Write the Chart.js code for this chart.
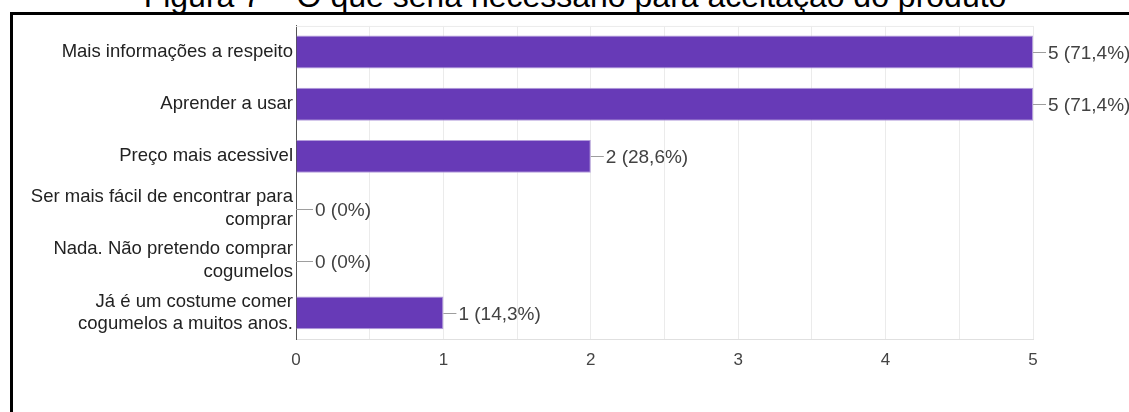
<!DOCTYPE html>
<html>
<head>
<meta charset="utf-8">
<script src="https://cdn.jsdelivr.net/npm/chart.js@4/dist/chart.umd.min.js"></script>
<style>
  html, body { margin: 0; padding: 0; background: #fff; overflow: hidden; }
  #wrap { position: relative; width: 1129px; height: 412px; }
  #titulo {
    position: absolute; left: 0; width: 1150px; top: -20px;
    text-align: center; font-family: Arial, "Liberation Sans", sans-serif;
    font-size: 32px; line-height: 32px; color: #000; white-space: nowrap;
  }
  #moldura {
    position: absolute; left: 10px; top: 12px; right: 0; bottom: 0;
    border-top: 3px solid #000; border-left: 3px solid #000;
  }
  #myCanvas { position: absolute; left: 0; top: 0; }
</style>
</head>
<body>
<div id="wrap">
  <div id="titulo">Figura 7 – O que seria necessário para aceitação do produto</div>
  <div id="moldura"></div>
  <canvas id="myCanvas" width="1129" height="412"></canvas>
</div>
<script>
const categorias = [
  "Mais informações a respeito",
  "Aprender a usar",
  "Preço mais acessivel",
  ["Ser mais fácil de encontrar para", "comprar"],
  ["Nada. Não pretendo comprar", "cogumelos"],
  ["Já é um costume comer", "cogumelos a muitos anos."]
]
const respostas = [5, 5, 2, 0, 0, 1]
const totalRespostas = 7
const ticksX = [0, 1, 2, 3, 4, 5]

function rotulo(v){
  let pct = (v / totalRespostas * 100).toFixed(1).replace(".", ",")
  if(pct.endsWith(",0")) pct = pct.slice(0, -2)
  return v + " (" + pct + "%)"
}

// top border of the plot + value labels with the little connector line
const rotulosPlugin = {
  id: "rotulos",
  beforeDatasetsDraw(chart){
    const {ctx, chartArea} = chart
    ctx.save()
    ctx.strokeStyle = "#ebebeb"
    ctx.lineWidth = 1
    ctx.beginPath()
    ctx.moveTo(chartArea.left, chartArea.top + 0.5)
    ctx.lineTo(chartArea.right, chartArea.top + 0.5)
    ctx.stroke()
    ctx.restore()
  },
  afterDatasetsDraw(chart){
    const ctx = chart.ctx
    const xs = chart.scales.x
    const ys = chart.scales.y
    ctx.save()
    ctx.font = "19px Arial, 'Liberation Sans', sans-serif"
    ctx.textBaseline = "middle"
    ctx.fillStyle = "#424242"
    respostas.forEach((v, i) => {
      const x = xs.getPixelForValue(v)
      const y = Math.round(ys.getPixelForValue(i)) + 0.5
      const traco = v === 0 ? 17 : 13
      ctx.strokeStyle = "#9e9e9e"
      ctx.lineWidth = 1
      ctx.beginPath()
      ctx.moveTo(x, y)
      ctx.lineTo(x + traco, y)
      ctx.stroke()
      ctx.fillText(rotulo(v), x + traco + 2, y + 1)
    })
    ctx.restore()
  }
}

const config = {
  type: "bar",
  data: {
    labels: categorias,
    datasets: [{
      data: respostas,
      backgroundColor: "#673ab7",
      borderColor: "#b39ddb",
      borderWidth: 1,
      categoryPercentage: 1,
      barPercentage: 0.63
    }]
  },
  options: {
    indexAxis: "y",
    responsive: false,
    animation: false,
    layout: { padding: { left: 0, top: 22, right: 96, bottom: 0 } },
    plugins: { legend: { display: false }, tooltip: { enabled: false } },
    scales: {
      x: {
        min: 0, max: 5,
        grid: { color: "#ebebeb", drawTicks: false },
        border: { color: "#e0e0e0" },
        ticks: {
          stepSize: 0.5,
          autoSkip: false,
          maxRotation: 0,
          padding: 11,
          color: "#444",
          font: { family: "Arial, 'Liberation Sans', sans-serif", size: 17 },
          callback: (v) => ticksX.includes(v) ? String(v) : ""
        },
        afterFit: (s) => { s.height = 73 }
      },
      y: {
        grid: { display: false, drawTicks: false },
        border: { color: "#555", width: 1 },
        ticks: {
          autoSkip: false,
          padding: 3,
          color: "#222",
          font: { family: "Arial, 'Liberation Sans', sans-serif", size: 18.5, lineHeight: 1.24 }
        },
        afterFit: (s) => { s.width = 296 }
      }
    }
  },
  plugins: [rotulosPlugin]
}

var myChart = new Chart(document.getElementById("myCanvas"), config)
</script>
</body>
</html>
